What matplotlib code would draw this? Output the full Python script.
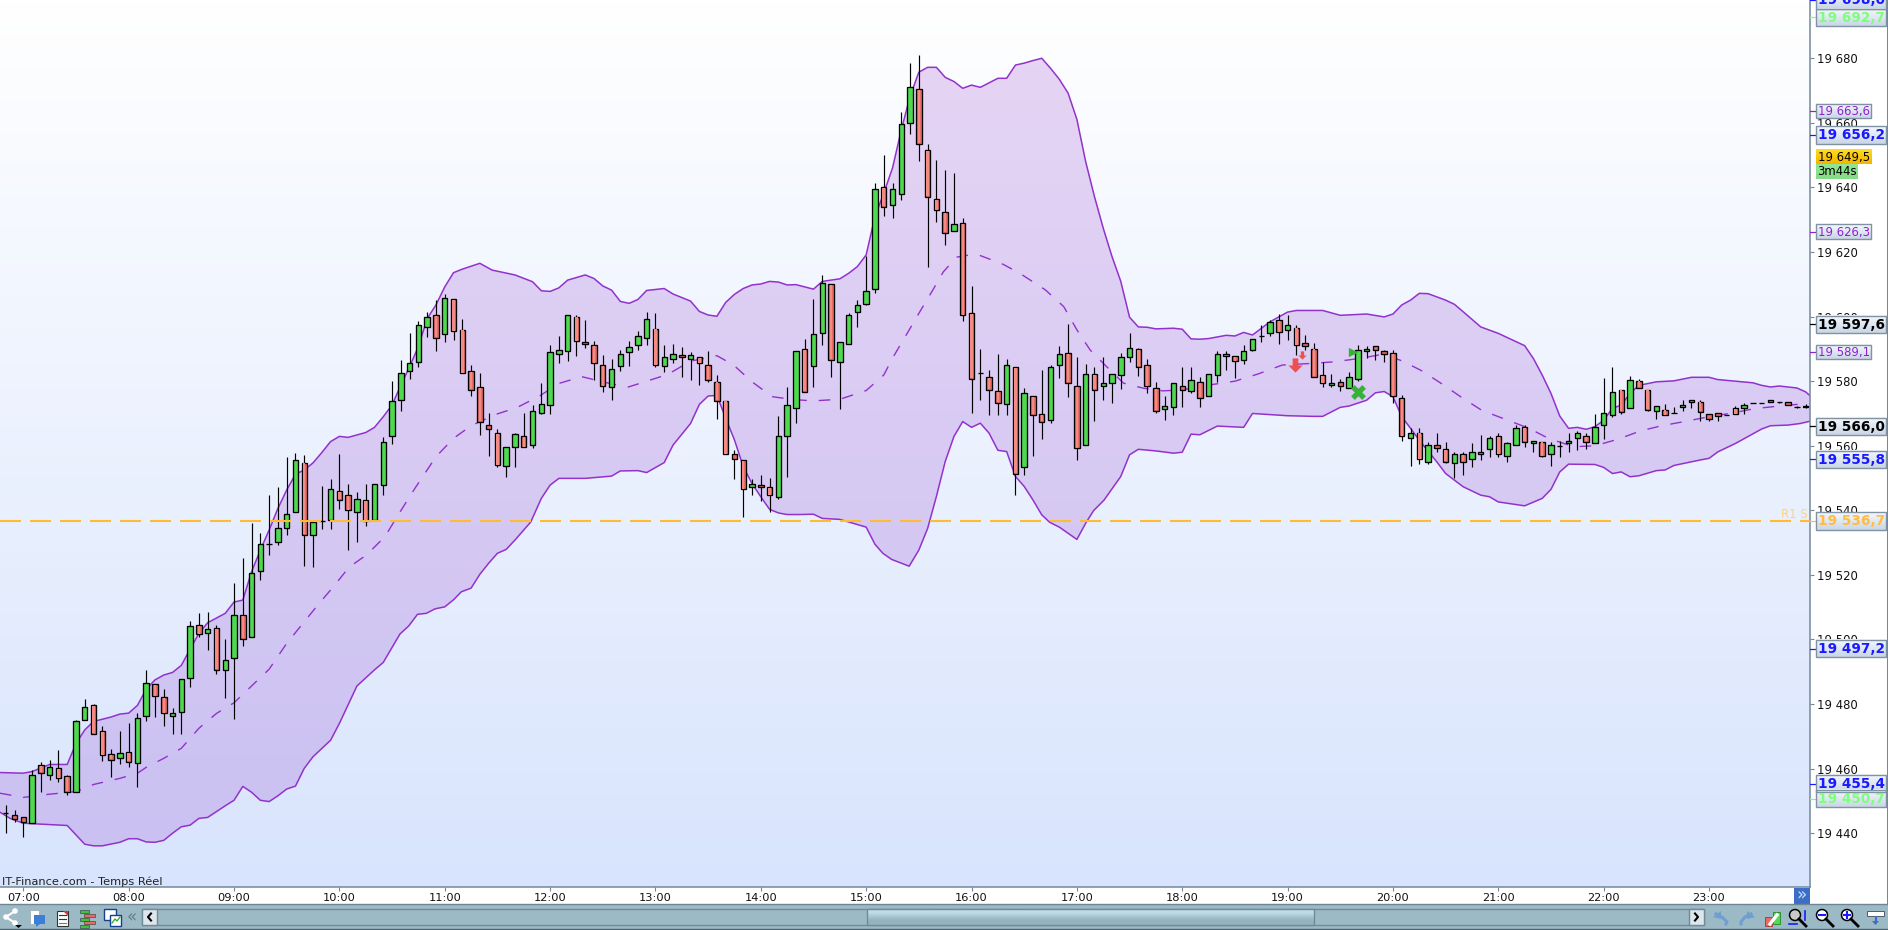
import numpy as np
import matplotlib
matplotlib.use("Agg")
import matplotlib.pyplot as plt
from matplotlib.patches import Rectangle, Circle, Polygon
from matplotlib.path import Path

plt.rcParams['font.family'] = ['DejaVu Sans']
plt.rcParams['lines.scale_dashes'] = False

opens = [
 19446.2,19445.5,19445.1,19443.1,19461.0,19457.9,19460.1,19457.6,19452.7,19475.0,
 19479.6,19471.6,19464.4,19463.2,19465.1,19461.7,19476.2,19486.1,19482.1,19476.2,
 19477.4,19488.0,19504.4,19501.9,19503.5,19490.5,19494.2,19507.5,19500.7,19521.1,
 19529.5,19530.1,19534.4,19539.4,19554.8,19532.5,19536.8,19536.9,19545.9,19544.6,
 19539.4,19543.1,19536.9,19548.0,19562.9,19574.3,19583.0,19585.8,19596.9,19600.4,
 19594.5,19605.3,19596.0,19583.0,19578.1,19566.3,19563.8,19553.6,19559.5,19562.9,
 19560.1,19570.3,19572.5,19588.3,19589.5,19600.0,19592.0,19591.1,19584.9,19578.1,
 19584.6,19588.9,19591.1,19593.5,19596.3,19584.6,19587.0,19588.0,19587.0,19587.4,
 19584.9,19579.9,19574.0,19557.3,19555.5,19547.1,19548.0,19547.1,19544.0,19562.9,
 19571.6,19589.9,19584.6,19594.9,19610.0,19585.9,19591.4,19601.4,19603.8,19608.5,
 19640.1,19634.5,19637.9,19659.9,19670.4,19651.5,19636.4,19632.3,19626.4,19628.9,
 19601.0,19582.4,19581.2,19576.9,19572.9,19584.3,19553.4,19575.3,19569.8,19567.9,
 19584.9,19588.7,19578.4,19560.2,19582.2,19578.4,19579.4,19581.8,19587.4,19589.9,
 19584.9,19577.8,19571.3,19571.9,19578.4,19576.9,19579.7,19575.3,19581.8,19587.7,
 19587.7,19586.7,19589.8,19594.0,19594.8,19598.8,19595.7,19596.6,19591.7,19590.1,
 19581.8,19578.7,19579.6,19577.8,19580.8,19589.2,19590.8,19589.2,19588.6,19574.7,
 19562.3,19564.1,19555.1,19560.1,19558.9,19554.8,19557.3,19555.8,19557.6,19558.9,
 19562.9,19556.7,19560.1,19565.7,19560.7,19561.3,19557.3,19560.0,19560.7,19562.3,
 19562.9,19560.7,19566.3,19569.4,19577.4,19571.6,19580.2,19577.4,19570.9,19571.2,
 19570.0,19571.9,19573.4,19573.7,19569.7,19570.0,19569.4,19571.6,19571.6,19573.1,
 19573.3,19574.3,19573.4,19573.7,19572.1,19572.2]
highs = [
 19448.7,19447.2,19445.1,19459.6,19462.1,19462.7,19465.8,19458.0,19475.1,19481.6,
 19480.0,19473.2,19466.1,19471.7,19474.1,19477.1,19490.6,19486.1,19484.7,19478.8,
 19487.7,19505.7,19508.1,19508.5,19504.5,19500.2,19517.5,19525.2,19536.0,19532.9,
 19544.8,19547.1,19556.5,19557.9,19557.0,19537.0,19547.5,19549.6,19557.4,19548.3,
 19545.6,19548.3,19548.3,19562.6,19580.0,19586.5,19594.8,19598.6,19601.3,19605.0,
 19607.0,19605.3,19599.4,19584.9,19582.4,19570.0,19565.2,19559.5,19563.8,19570.3,
 19572.6,19579.3,19591.1,19593.9,19600.4,19600.4,19598.9,19592.3,19588.0,19587.0,
 19589.6,19592.4,19595.4,19601.3,19601.0,19591.1,19591.4,19590.5,19588.9,19587.4,
 19589.5,19581.8,19574.0,19558.6,19555.5,19549.6,19550.8,19549.9,19569.2,19578.1,
 19589.5,19593.1,19605.5,19612.9,19610.0,19592.1,19601.0,19605.1,19618.8,19641.3,
 19650.1,19641.3,19663.4,19678.6,19681.1,19653.4,19648.5,19645.4,19644.5,19630.6,
 19609.5,19590.0,19583.4,19588.5,19586.9,19584.3,19577.8,19575.3,19583.5,19584.9,
 19590.9,19597.7,19587.5,19585.4,19584.4,19587.5,19582.2,19588.8,19594.9,19590.3,
 19586.9,19579.8,19575.4,19579.4,19584.4,19584.4,19581.4,19582.1,19589.3,19589.3,
 19587.7,19591.1,19593.2,19597.4,19598.8,19600.8,19600.5,19597.3,19594.3,19591.7,
 19585.8,19582.1,19580.8,19582.7,19591.1,19590.8,19590.8,19589.8,19589.8,19575.6,
 19565.4,19565.4,19561.3,19564.1,19561.3,19558.2,19558.2,19560.7,19563.3,19562.9,
 19564.1,19561.3,19566.3,19566.3,19561.6,19561.3,19561.3,19561.6,19564.1,19564.7,
 19564.1,19569.7,19580.9,19584.3,19577.4,19581.5,19580.8,19577.4,19572.2,19572.8,
 19571.9,19574.3,19574.3,19574.3,19569.7,19570.0,19569.4,19572.2,19573.1,19573.1,
 19573.3,19574.3,19573.7,19573.7,19572.3,19572.8]
lows = [
 19440.0,19443.6,19438.9,19443.1,19452.9,19456.5,19456.0,19451.8,19452.7,19475.0,
 19470.6,19462.5,19457.5,19461.4,19460.6,19454.4,19474.9,19476.1,19473.3,19470.8,
 19470.8,19485.4,19500.7,19496.8,19489.4,19482.0,19475.5,19498.1,19500.7,19518.5,
 19526.3,19529.4,19532.3,19539.4,19522.8,19522.5,19534.3,19534.3,19540.5,19527.8,
 19530.3,19535.2,19536.9,19544.8,19560.4,19570.8,19580.7,19584.5,19593.7,19589.4,
 19592.2,19592.8,19582.4,19575.5,19563.4,19556.9,19553.5,19550.4,19553.5,19559.5,
 19559.4,19569.9,19569.9,19585.7,19586.3,19587.8,19590.3,19580.3,19576.7,19574.2,
 19583.1,19584.7,19589.8,19591.3,19584.5,19582.9,19585.6,19581.4,19580.4,19578.8,
 19579.8,19568.4,19557.3,19549.7,19538.0,19544.9,19542.9,19539.4,19543.4,19550.4,
 19566.9,19576.6,19578.3,19591.3,19581.4,19571.5,19591.4,19596.9,19603.5,19607.4,
 19631.3,19630.4,19636.1,19656.7,19648.3,19615.5,19629.4,19622.3,19626.4,19598.5,
 19570.0,19574.3,19569.4,19569.4,19569.4,19544.6,19550.8,19556.7,19562.2,19567.2,
 19581.0,19575.2,19555.7,19560.2,19567.8,19574.3,19573.1,19577.7,19585.8,19581.7,
 19576.2,19570.3,19568.1,19569.4,19572.1,19576.2,19572.1,19575.3,19579.6,19583.4,
 19580.9,19585.2,19589.2,19592.2,19594.0,19591.6,19592.9,19588.2,19589.8,19581.2,
 19578.3,19578.3,19577.0,19577.8,19580.0,19587.2,19586.5,19585.9,19573.1,19561.5,
 19553.8,19554.2,19554.2,19558.2,19554.8,19550.1,19551.0,19553.3,19555.7,19556.4,
 19556.4,19555.0,19560.1,19559.7,19558.1,19556.4,19553.8,19556.6,19558.1,19558.8,
 19559.1,19560.7,19562.2,19568.8,19569.7,19571.6,19578.0,19570.9,19568.4,19569.4,
 19570.0,19570.9,19571.8,19567.7,19567.8,19567.7,19569.4,19569.7,19569.7,19573.1,
 19573.3,19573.4,19573.2,19572.5,19571.8,19571.7]
closes = [
 19446.2,19444.5,19443.6,19457.9,19458.6,19460.6,19457.0,19452.9,19474.7,19479.0,
 19470.8,19464.1,19462.6,19465.0,19462.0,19475.6,19486.4,19482.4,19477.1,19477.1,
 19487.7,19504.1,19501.6,19503.2,19490.5,19493.6,19507.5,19500.1,19520.5,19529.5,
 19529.5,19534.4,19539.0,19555.5,19532.5,19536.4,19536.8,19546.5,19543.3,19540.0,
 19543.4,19536.8,19548.3,19561.3,19574.0,19582.4,19585.5,19597.3,19600.0,19593.5,
 19605.9,19595.4,19582.4,19577.4,19567.5,19565.3,19553.9,19559.5,19563.5,19559.5,
 19570.9,19572.8,19588.9,19589.8,19600.4,19592.3,19591.4,19585.5,19578.4,19583.9,
 19588.3,19590.5,19593.9,19599.4,19584.9,19587.4,19588.3,19587.4,19588.0,19585.5,
 19580.5,19574.0,19557.3,19556.0,19546.5,19548.3,19547.3,19544.6,19562.9,19572.5,
 19589.5,19576.8,19594.5,19610.3,19586.5,19592.1,19600.4,19603.5,19607.9,19639.5,
 19633.9,19639.5,19659.6,19671.0,19653.4,19637.0,19632.9,19625.8,19628.6,19600.4,
 19580.6,19582.4,19577.2,19573.2,19584.9,19551.2,19576.3,19569.5,19567.3,19584.3,
 19588.4,19579.4,19559.2,19582.2,19577.2,19579.4,19582.2,19587.4,19590.2,19584.3,
 19578.4,19570.7,19572.2,19579.4,19577.2,19580.3,19574.7,19582.1,19588.3,19588.3,
 19586.1,19589.2,19593.2,19594.0,19598.2,19595.1,19597.3,19591.1,19590.8,19581.2,
 19579.3,19579.3,19578.4,19581.2,19589.8,19590.1,19589.8,19588.3,19575.3,19562.9,
 19564.1,19555.8,19560.1,19559.2,19555.1,19557.6,19555.1,19558.2,19558.2,19562.3,
 19557.3,19560.7,19565.4,19561.3,19561.6,19556.7,19560.1,19560.0,19561.6,19564.1,
 19561.3,19565.7,19570.3,19576.5,19570.6,19580.5,19578.0,19571.2,19572.2,19569.4,
 19570.0,19572.5,19574.3,19570.6,19568.2,19569.1,19569.4,19569.7,19572.5,19573.1,
 19573.3,19573.7,19573.4,19572.5,19572.1,19571.9]
first_bar = -2   # bars are five minutes wide, bar 0 opens at 07:00

upper_bar = [-2.66,0,1,3,5,6,7,8,10,11,12,13,14,15,16,17,18,19,20,21,23,24,25,26,27,28,29,30,31,32,33,34,35,36,37,39,40,41,42,43,44,45,46,47,48,49,50,52,53.4,56,58,59,60,61,62,64,65,66,67,68,69,70,71,73,74,76,77,78,79,80,81,82,83,84,85,86,87,88,90,91,93,94,95,96,97,98,99,100,101,102,103,104,105,106,107,108,109,111,112,113,114,115,116,117,118,119,120,121,122,123,124,125,126,127,128,129,131,132,133,134,135,137,138,139,140,142,144,145,148,150,153,155,156,157,158,159,160,162,163,164,166,168,171,172,173,174,175,176,177,178,179,180,181,182,183,184,186,188,190,192,193,197,198,199,200,202,203,203.5]
upper_val = [19458.8,19458.6,19459.1,19461.3,19461.3,19467.8,19472.0,19474.6,19476.0,19476.9,19477.2,19479.6,19484.6,19487.5,19489.0,19489.8,19492.0,19497.0,19501.9,19505.2,19508.1,19511.6,19512.2,19521.0,19527.7,19533.9,19540.6,19546.3,19551.2,19552.5,19554.7,19557.9,19561.3,19562.9,19562.6,19564.1,19565.7,19569.0,19572.6,19578.8,19584.5,19590.7,19599.4,19603.6,19609.2,19613.6,19614.7,19616.5,19614.4,19612.9,19610.8,19608.0,19607.8,19608.9,19611.3,19612.9,19611.8,19609.5,19608.2,19604.7,19604.1,19605.3,19608.1,19608.7,19607.0,19604.8,19601.6,19600.5,19600.1,19604.4,19606.9,19608.7,19609.8,19610.1,19610.9,19610.7,19609.8,19609.9,19608.5,19610.9,19611.7,19613.4,19615.5,19619.1,19631.0,19638.2,19646.0,19657.8,19668.2,19675.7,19677.2,19677.2,19674.1,19672.8,19670.7,19671.7,19671.0,19673.8,19673.8,19677.9,19678.5,19679.3,19680.0,19676.9,19673.5,19669.2,19661.1,19648.0,19637.2,19627.4,19618.6,19610.9,19599.8,19596.8,19596.7,19596.2,19596.4,19596.1,19593.1,19593.0,19593.2,19594.2,19594.0,19595.1,19594.3,19598.4,19601.4,19601.9,19601.9,19600.4,19600.8,19599.9,19600.8,19603.6,19605.1,19607.2,19607.1,19605.1,19603.8,19601.5,19596.8,19594.8,19591.0,19587.0,19581.9,19576.2,19569.2,19565.4,19565.7,19565.1,19565.9,19567.9,19571.6,19572.6,19576.2,19578.7,19579.8,19580.1,19581.2,19581.2,19580.5,19579.5,19578.7,19578.2,19578.5,19577.9,19576.7,19575.5]

lower_bar = [-2.66,-1.5,0,5,7,8,9,11,12,13,14,15,16,17,18,19,20,21,23,24,25,26,27,28,29,30,31,32,33,35,36,38,40,41,42.9,43.9,44.9,45.9,46.9,48,49,49.9,51,52,53,54,55,56,57.8,59,60,61,64,67,68,70,71,73,74,76,77,78,79,80,81,82,83,84,85,86,87,88.4,90,91,93,94.5,96,97,97.9,98.9,100.9,102,103,104,105,106,107,108,109,110,111,112,113,114,115,116,116.9,118,120,121,121.9,123.1,125,126,127,129,131,132,133,134,136,139,140,144,147,148,150,151,153,154,155,156,157,158,159,161,162,164,166,167,168,171,173,174,175,176,179,180,181,182,183,184,186,187,188,191,192,193,195,198,199,201,202.4,203.5]
lower_val = [19446.5,19444.6,19443.1,19442.4,19436.6,19436.1,19436.1,19437.2,19438.3,19438.3,19437.3,19437.2,19437.8,19440.0,19442.0,19442.5,19444.6,19444.9,19448.5,19450.2,19454.5,19452.7,19450.2,19449.8,19451.6,19453.7,19454.6,19460.1,19463.7,19468.8,19474.0,19485.6,19490.6,19492.9,19501.7,19504.2,19507.8,19508.1,19509.5,19510.1,19512.3,19514.8,19515.9,19520.2,19523.6,19526.7,19527.9,19530.8,19536.4,19543.7,19547.8,19549.9,19549.9,19550.6,19552.2,19552.3,19551.7,19554.8,19560.2,19566.9,19572.8,19575.4,19575.6,19568.5,19561.8,19553.5,19548.3,19544.2,19540.3,19539.2,19538.7,19538.7,19538.8,19537.5,19537.2,19536.0,19534.8,19529.5,19526.7,19524.8,19522.7,19527.7,19534.4,19544.3,19555.1,19562.9,19567.5,19565.7,19567.0,19563.9,19558.6,19558.2,19550.5,19547.4,19543.2,19538.6,19536.3,19534.8,19531.0,19536.0,19539.9,19543.2,19550.5,19557.2,19558.9,19558.4,19557.7,19558.0,19563.6,19563.4,19566.1,19565.7,19570.0,19569.3,19569.1,19569.1,19571.9,19572.3,19574.1,19576.4,19576.8,19575.2,19569.0,19565.4,19561.7,19555.0,19551.4,19547.3,19544.7,19544.2,19542.6,19541.4,19543.7,19546.5,19551.9,19554.3,19554.2,19553.3,19551.4,19551.9,19550.4,19550.7,19552.3,19552.5,19553.9,19555.6,19556.1,19558.1,19560.7,19565.2,19566.2,19566.4,19566.9,19567.6]

middle_bar = [-2.66,0,3,6,8,11,13,14,16,18,20,22,24,26,28,30,32,33.7,35.4,37.1,39.1,41.2,42.7,44.6,47,49,51,53.8,56.2,58.8,61,63.6,66,68.8,71,73.4,76,79,80.9,83,85.3,87.7,90,93,96,98,99.1,100.8,102,103.5,104.8,106.3,107.8,108.9,111.6,113.5,116.4,118.5,120,121.5,123.2,125.3,127.6,129.8,132,133.9,135,138,140.6,143.4,146.7,149.3,152.1,155,157.1,159.3,161.5,163.7,166.1,168.5,171.5,173.7,176.6,179,181.6,184.2,186.6,189.4,192,194.8,197.2,200.7,202.4,203.5]
middle_val = [19452.4,19451.1,19452.1,19452.9,19455.1,19457.0,19458.6,19460.4,19463.2,19466.3,19472.5,19477.1,19480.4,19485.6,19490.8,19498.8,19505.5,19511.2,19516.6,19522.4,19526.2,19531.9,19538.6,19546.8,19556.6,19562.3,19566.2,19569.7,19571.8,19575.4,19579.3,19581.4,19579.8,19578.1,19580.0,19582.1,19586.2,19587.9,19585.0,19579.8,19575.2,19574.3,19573.9,19574.4,19577.1,19581.9,19587.6,19595.4,19601.0,19607.8,19613.9,19618.4,19619.1,19619.0,19616.2,19613.4,19608.3,19603.1,19595.9,19589.7,19585.0,19579.4,19577.8,19577.0,19577.3,19578.3,19578.8,19580.0,19582.2,19585.0,19585.5,19586.0,19587.0,19588.4,19586.2,19583.2,19579.3,19575.2,19571.0,19568.5,19565.4,19562.3,19559.7,19560.0,19562.0,19564.6,19566.2,19567.6,19569.0,19570.2,19571.5,19572.5,19572.9,19573.0]

pivot_level = 19536.7
pivot_label = "R1 S"
hour_labels = ["%02d:00" % h for h in range(7, 24)]
price_ticks = list(range(19440, 19681, 20))
price_tick_labels = ["19 %03d" % (p - 19000) for p in price_ticks]

# price tags: value, text, text colour, bold, box style
tag_values = [19698.0, 19692.7, 19663.6, 19656.2, 19626.3, 19597.6, 19589.1, 19566.0, 19555.8, 19536.7, 19497.2, 19455.4, 19450.7]
tag_texts  = ["19 698,0","19 692,7","19 663,6","19 656,2","19 626,3","19 597,6","19 589,1","19 566,0","19 555,8","19 536,7","19 497,2","19 455,4","19 450,7"]
tag_colors = ["#1a1aff","#7dff7d","#8f1fd0","#1a1aff","#8f1fd0","#000000","#8f1fd0","#000000","#1a1aff","#ffbb44","#1a1aff","#1a1aff","#7dff7d"]
tag_big    = [True,True,False,True,False,True,False,True,True,True,True,True,True]
last_price = 19649.5
last_price_text = "19 649,5"
countdown_text = "3m44s"

sell_arrows = [(144.8, 19585.0), (145.6, 19588.0)]
buy_tri = (151.4, 19589.0)
buy_cross = (152.0, 19576.7)

W, H = 1888, 930
PLOT_R, PLOT_B, TIME_B = 1810, 887, 904
pxs = 3.229   # pixels per point of price
fig = plt.figure(figsize=(W/100, H/100), dpi=100, facecolor="white")
ax = fig.add_axes([0, (H-PLOT_B)/H, PLOT_R/W, PLOT_B/H])
xlim = (-2.654, 203.5)
ylim = (19423.35, 19698.05)
ax.set_facecolor("white")

grad = np.linspace(0, 1, 256)[:, None, None] * (np.array([0xd8,0xe4,0xfd])/255 - 1) + 1
ax.imshow(grad, extent=(xlim[0], xlim[1], ylim[0], ylim[1]), aspect="auto", origin="upper", zorder=0, interpolation="bilinear")

bars = first_bar + np.arange(len(opens))
o, h, l, c = map(np.array, (opens, highs, lows, closes))

band_c = "#9232cd"
ax.fill(np.r_[upper_bar, lower_bar[::-1]], np.r_[upper_val, lower_val[::-1]], color="#8c32c8", alpha=0.2, lw=0, zorder=1)
ax.plot(upper_bar, upper_val, color=band_c, lw=1.1, zorder=2)
ax.plot(lower_bar, lower_val, color=band_c, lw=1.1, zorder=2)
ax.plot(middle_bar, middle_val, color=band_c, lw=1.0, ls=(0, (8.3, 8.6)), dash_capstyle="butt", zorder=2)

mk_down = Path([(-.2,.5),(.2,.5),(.2,0),(.5,0),(0,-.5),(-.5,0),(-.2,0),(-.2,.5)], closed=True)
ax.scatter(*sell_arrows[1], marker=mk_down, s=35, color="#ee5050", lw=0, zorder=3)
ax.scatter(*sell_arrows[0], marker=mk_down, s=105, color="#ee5050", lw=0, zorder=3)

ax.vlines(bars, l, h, color="black", lw=0.85, zorder=4)
up = c > o
body_col = np.where(up, "#4fd94f", "#ea6c66")
ax.bar(bars, np.abs(c - o), bottom=np.minimum(o, c), width=0.62, color=body_col, edgecolor="black", linewidth=0.95, zorder=5)
inner = ~up & (np.abs(c - o) > 1.5)
ax.bar(bars[inner], np.abs(c - o)[inner] - 0.5, bottom=np.minimum(o, c)[inner] + 0.25, width=0.28, color="#f38a84", linewidth=0, zorder=5.5)

ax.scatter(*buy_tri, marker=">", s=45, color="#35b335", lw=0, zorder=6)
ax.scatter(*buy_cross, marker="X", s=115, color="#35b335", lw=0, zorder=6)

ax.axhline(pivot_level, color="#ffbb33", lw=1.5, ls=(0, (15.12, 6.48)), dash_capstyle="butt", zorder=7)
ax.text(203.2, pivot_level + 0.1, pivot_label, color="#ffd27f", fontsize=8.4, ha="right", va="bottom", zorder=7)
ax.text(0.0012, 0.0005, "IT-Finance.com - Temps Réel", transform=ax.transAxes, fontsize=8.2, color="#222222", ha="left", va="bottom", zorder=8)

ax.set_xlim(*xlim)
ax.set_ylim(*ylim)
ax.set_xticks(np.arange(len(hour_labels)) * 12)
ax.set_xticklabels(hour_labels, fontsize=8.2, color="#111111")
ax.yaxis.tick_right()
ax.set_yticks(price_ticks)
ax.set_yticklabels(price_tick_labels, fontsize=8.4, color="#111111")
ax.tick_params(axis="x", length=3, width=0.8, color="#74889a", pad=1.6)
ax.tick_params(axis="y", length=3, width=0.8, color="#74889a", pad=2.2)
for s in ("top", "left"):
    ax.spines[s].set_visible(False)
for s in ("right", "bottom"):
    ax.spines[s].set_color("#74889a")
    ax.spines[s].set_linewidth(1.1)

# right-hand price tags
tax = fig.add_axes([PLOT_R/W, (H-PLOT_B)/H, (W-PLOT_R)/W, PLOT_B/H], zorder=5)
tax.patch.set_visible(False)
tax.axis("off")
tg = np.linspace(0, 1, 32)[:, None, None]

def tag_box(x0, x1, yc, hp, top, bot, edge="#7f93a3"):
    t = np.array(matplotlib.colors.to_rgb(top)); b = np.array(matplotlib.colors.to_rgb(bot))
    dy = hp / pxs / 2
    tax.imshow(t + tg * (b - t), extent=(x0, x1, yc - dy, yc + dy), aspect="auto", origin="upper", zorder=2)
    if edge:
        tax.add_patch(Rectangle((x0, yc - dy), x1 - x0, 2 * dy, fill=False, ec=edge, lw=1.0, zorder=3))

for v, t, col, big in zip(tag_values, tag_texts, tag_colors, tag_big):
    tax.plot([0, 5], [v, v], color=col, lw=0.9, zorder=1)
    if big:
        tag_box(5.5, 76, v, 17.5, "#f6f9fd", "#c9d6e6")
        tax.text(7.5, v - 0.1, t, color=col, fontsize=9.8, fontweight="bold", va="center", ha="left", zorder=4)
    else:
        tag_box(5.5, 61, v, 14.5, "#f6f9fd", "#c9d6e6")
        tax.text(7.5, v - 0.1, t, color=col, fontsize=8.4, va="center", ha="left", zorder=4)
tag_box(5.5, 61, last_price, 14.5, "#ffdd22", "#f5b400", edge=None)
tax.text(7.5, last_price - 0.1, last_price_text, color="black", fontsize=8.4, va="center", ha="left", zorder=4)
tag_box(5.5, 47, last_price - 14.5/pxs, 15, "#92e692", "#86dc86", edge=None)
tax.text(7.5, last_price - 14.5/pxs - 0.1, countdown_text, color="black", fontsize=8.4, va="center", ha="left", zorder=4)
tax.set_xlim(0, W - PLOT_R)
tax.set_ylim(*ylim)

# application chrome, in pixels
ui = fig.add_axes([0, 0, 1, 1], zorder=6)
ui.patch.set_visible(False)
ui.axis("off")
ui.set_xlim(0, W)
ui.set_ylim(H, 0)
ui.add_patch(Rectangle((W-1.5, 0), 1.5, TIME_B, color="#74889a", lw=0))
ui.add_patch(Rectangle((1794, PLOT_B+0.5), 16, TIME_B-PLOT_B-0.5, color="#3b6fc6", lw=0))
ui.text(1802, 895, "»", color="#cfe0ff", fontsize=12, ha="center", va="center")
ui.add_patch(Rectangle((0, TIME_B), W, H-TIME_B, color="#9cbac6", lw=0))
ui.plot([0, W], [TIME_B, TIME_B], color="#6f8593", lw=1)
ui.plot([0, W], [H-0.7, H-0.7], color="#516672", lw=1)
# scrollbar
ui.add_patch(Rectangle((142, 909), 1562, 15.5, fc="#9cbac6", ec="#6f8a98", lw=1))
ui.imshow(np.array([[[0xbd,0xdc,0xe8]],[[0x94,0xb3,0xc0]]])/255, extent=(867, 1313.5, 924, 909.5), aspect="auto", interpolation="bilinear", zorder=2)
ui.add_patch(Rectangle((867, 909), 446.5, 15.5, fill=False, ec="#6f8a98", lw=1, zorder=3))
for x0 in (142, 1689):
    ui.add_patch(Rectangle((x0, 909), 15, 15.5, fc="#dce6ec", ec="#6f8a98", lw=1, zorder=3))
ui.plot([151, 148, 151], [913.5, 917, 920.5], color="black", lw=1.5, zorder=4)
ui.plot([1695, 1698, 1695], [913.5, 917, 920.5], color="black", lw=1.5, zorder=4)
ui.text(132, 917, "«", color="#5f7d8c", fontsize=12, ha="center", va="center")
# left-hand toolbar icons
ui.plot([6, 15], [917, 911], color="white", lw=1.5); ui.plot([6, 15], [917, 923], color="white", lw=1.5)
for (x, y) in [(6, 917), (15, 911), (15, 923)]:
    ui.add_patch(Circle((x, y), 2.8, color="white", lw=0))
ui.add_patch(Polygon([(15, 925), (22, 925), (18.5, 928)], color="black", lw=0))
ui.add_patch(Rectangle((30, 910), 9, 14, fc="white", ec="#9aa", lw=0.5))
ui.add_patch(Rectangle((34, 915), 11, 9, fc="#3b7fd9", lw=0))
ui.add_patch(Polygon([(36, 924), (40, 924), (36, 927)], color="#3b7fd9", lw=0))
ui.add_patch(Rectangle((57, 911), 11, 15, fc="white", ec="#333", lw=0.8))
ui.plot([59, 66], [915, 915], color="#333", lw=0.8); ui.plot([59, 66], [919, 919], color="#333", lw=0.8); ui.plot([59, 66], [923, 923], color="#3a3", lw=0.8)
ui.add_patch(Polygon([(63, 911), (68, 911), (68, 916)], color="#d33", lw=0))
for (x, y, w, col) in [(80, 910, 9, "#3cc43c"), (84, 914, 11, "#e86a62"), (80, 918, 9, "#3cc43c"), (84, 921, 11, "#e86a62"), (80, 925, 9, "#3cc43c")]:
    ui.add_patch(Rectangle((x, y), w, 3.2, fc=col, ec="#333", lw=0.4))
ui.add_patch(Rectangle((104, 909), 12, 11, fc="white", ec="#15408f", lw=1))
ui.add_patch(Rectangle((110, 915), 11, 11, fc="white", ec="#15408f", lw=1, zorder=3))
ui.plot([112, 115, 117, 120], [923, 919, 921, 917], color="#2a2", lw=0.9, zorder=4)
# right-hand toolbar icons
ui.plot([1716, 1722, 1727, 1726], [914, 917, 922, 924], color="#6f9fd0", lw=2.2)
ui.add_patch(Polygon([(1713, 917), (1721, 911), (1721, 919)], color="#6f9fd0", lw=0))
ui.plot([1751, 1745, 1741, 1741], [914, 917, 922, 924], color="#6f9fd0", lw=2.2)
ui.add_patch(Polygon([(1755, 917), (1747, 911), (1747, 919)], color="#6f9fd0", lw=0))
ui.add_patch(Rectangle((1765, 917), 7, 9, fc="#e86a62", ec="#a33", lw=0.6))
ui.add_patch(Rectangle((1773, 912), 7, 12, fc="#55d855", ec="#282", lw=0.6))
ui.plot([1770, 1777], [924, 915], color="white", lw=2.4, zorder=3)
for cx, cy, r, fc in [(1795, 915, 5.5, "#c8c8c8"), (1822, 915, 5.5, "white"), (1847, 915, 5.5, "white")]:
    ui.add_patch(Circle((cx, cy), r, fc=fc, ec="black", lw=1.1, zorder=3))
    ui.plot([cx+4, cx+11], [cy+4, cy+11], color="black", lw=2, zorder=3)
ui.plot([1819, 1825], [915, 915], color="#1a1aff", lw=1.5, zorder=4)
ui.plot([1844, 1850], [915, 915], color="#1a1aff", lw=1.5, zorder=4)
ui.plot([1847, 1847], [912, 918], color="#1a1aff", lw=1.5, zorder=4)
ui.plot([1805, 1805], [911, 920], color="#1a1aff", lw=1.2)
ui.plot([1789, 1797], [924, 924], color="#1a1aff", lw=1.2)
ui.add_patch(Rectangle((1867, 911), 17, 5, fc="white", ec="#445", lw=0.6))
ui.plot([1875.5, 1875.5], [917, 922], color="#3b6fc6", lw=1.5)
ui.add_patch(Polygon([(1872, 921), (1879, 921), (1875.5, 925)], color="#3b6fc6", lw=0))

fig.savefig("out.png", dpi=100, facecolor="white")
